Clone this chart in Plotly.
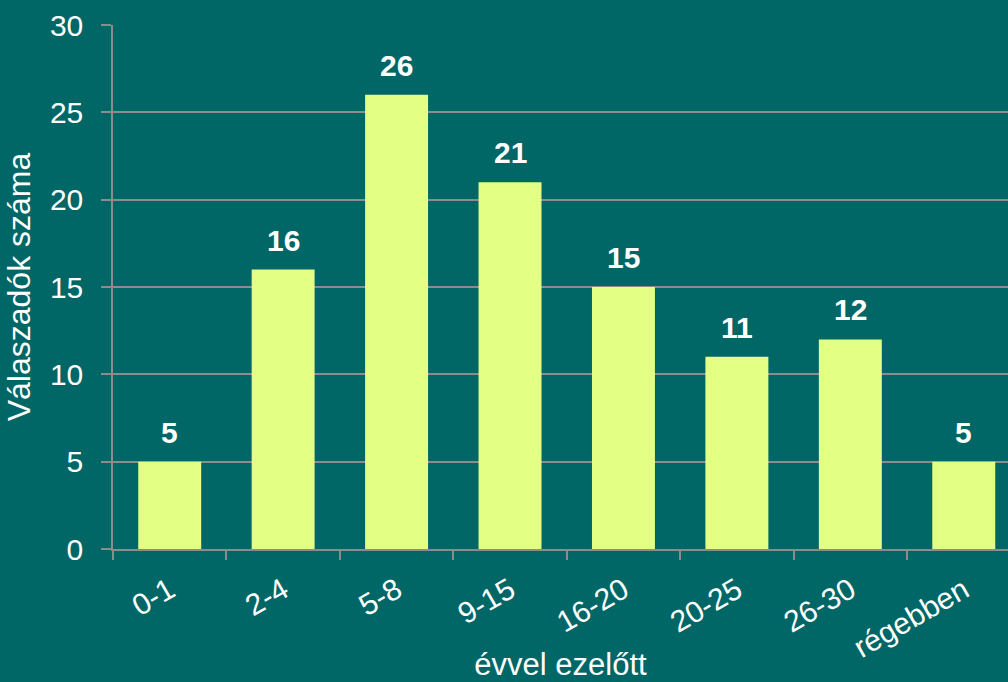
import plotly.graph_objects as go

categories = ["0-1", "2-4", "5-8", "9-15", "16-20", "20-25", "26-30", "régebben"]
values = [5, 16, 26, 21, 15, 11, 12, 5]
y_title = "Válaszadók száma"
x_title = "évvel ezelőtt"

BG = "#006666"
BAR = "#E3FF84"
GRID = "#8C8C8C"
FONT = "Liberation Sans, Arial, sans-serif"

fig = go.Figure()
fig.add_trace(go.Bar(
    x=categories, y=values,
    marker=dict(color=BAR, line=dict(width=0)),
    width=0.555,
    hoverinfo="skip",
))

for c, v in zip(categories, values):
    fig.add_annotation(
        x=c, y=v, text=f"<b>{v}</b>", showarrow=False,
        yanchor="bottom", yshift=11,
        font=dict(family=FONT, size=30, color="white"),
    )

fig.update_layout(
    width=1008, height=682,
    paper_bgcolor=BG, plot_bgcolor=BG,
    margin=dict(l=113, r=0, t=25, b=133),
    showlegend=False,
    font=dict(family=FONT, color="white", size=30),
)
fig.update_xaxes(
    type="category",
    range=[-0.5, 7.39],
    tickangle=-30,
    tickfont=dict(family=FONT, size=30, color="white"),
    ticks="outside", tickson="boundaries", ticklen=9, tickcolor=GRID, tickwidth=1.5,
    ticklabelstandoff=10,
    showline=True, linecolor=GRID, linewidth=2,
    showgrid=False, zeroline=False, automargin=False,
    title=dict(text=x_title, font=dict(family=FONT, size=31, color="white"), standoff=0),
)
fig.update_yaxes(
    range=[0, 30], dtick=5,
    tickfont=dict(family=FONT, size=30, color="white"),
    ticks="outside", ticklen=10, tickcolor=GRID, tickwidth=1.5,
    ticklabelstandoff=12,
    showline=True, linecolor=GRID, linewidth=1.5,
    showgrid=True, gridcolor=GRID, gridwidth=1.5,
    zeroline=False, automargin=False,
    title=dict(text=y_title, font=dict(family=FONT, size=32, color="white"), standoff=10),
)

fig.write_html("out.html", config={"displayModeBar": False},
               post_script="document.body.style.margin='0';")
